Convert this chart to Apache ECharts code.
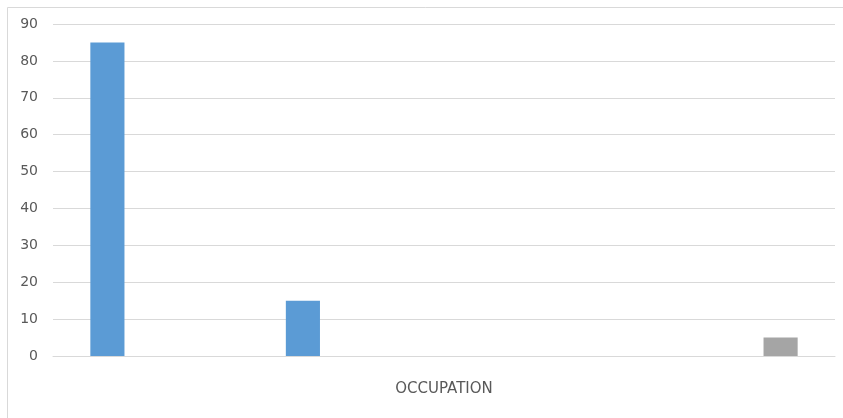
<!DOCTYPE html>
<html>
<head>
<meta charset="utf-8">
<script src="https://cdn.jsdelivr.net/npm/echarts@6/dist/echarts.min.js"></script>
<style>
  html, body { margin: 0; padding: 0; background: #ffffff; }
  #chart { width: 843px; height: 418px; }
</style>
</head>
<body>
<div id="chart"></div>
<script>
// Category slots along the x axis (unlabelled)
const categories = ['', '', '', ''];
// Series values per slot; null = no bar
const seriesOne = [85, 15, null, null];
const seriesTwo = [null, null, null, null];
const seriesThree = [null, null, null, 5];
// Y axis range
const yMin = 0;
const yMax = 90;
const yStep = 10;
const axisTitle = 'OCCUPATION';

const chart = echarts.init(document.getElementById('chart'), null, { renderer: 'canvas' });

const font = 'DejaVu Sans';
const barCommon = { type: 'bar', barGap: '27%', barCategoryGap: '38.2%' };

chart.setOption({
  animation: false,
  backgroundColor: '#ffffff',
  graphic: [{
    type: 'rect',
    shape: { x: 7.5, y: 7.5, width: 900, height: 500 },
    style: { fill: 'none', stroke: '#D9D9D9', lineWidth: 1 },
    silent: true
  }],
  grid: { left: 53, right: 8, top: 24, bottom: 62, containLabel: false },
  xAxis: {
    type: 'category',
    data: categories,
    name: axisTitle,
    nameLocation: 'middle',
    nameGap: 26,
    nameTextStyle: { fontFamily: font, fontSize: 15, color: '#595959' },
    axisLine: { show: true, lineStyle: { color: '#D9D9D9', width: 1 } },
    axisTick: { show: false },
    axisLabel: { show: false },
    splitLine: { show: false }
  },
  yAxis: {
    type: 'value',
    min: yMin,
    max: yMax,
    interval: yStep,
    axisLine: { show: false },
    axisTick: { show: false },
    axisLabel: { fontFamily: font, fontSize: 14, color: '#595959', margin: 15, padding: [2, 0, 0, 0] },
    splitLine: { lineStyle: { color: '#D9D9D9', width: 1 } }
  },
  series: [
    Object.assign({ name: 'A', data: seriesOne, itemStyle: { color: '#5B9BD5' } }, barCommon),
    Object.assign({ name: 'B', data: seriesTwo, itemStyle: { color: '#ED7D31' } }, barCommon),
    Object.assign({ name: 'C', data: seriesThree, itemStyle: { color: '#A5A5A5' } }, barCommon)
  ]
});
</script>
</body>
</html>
